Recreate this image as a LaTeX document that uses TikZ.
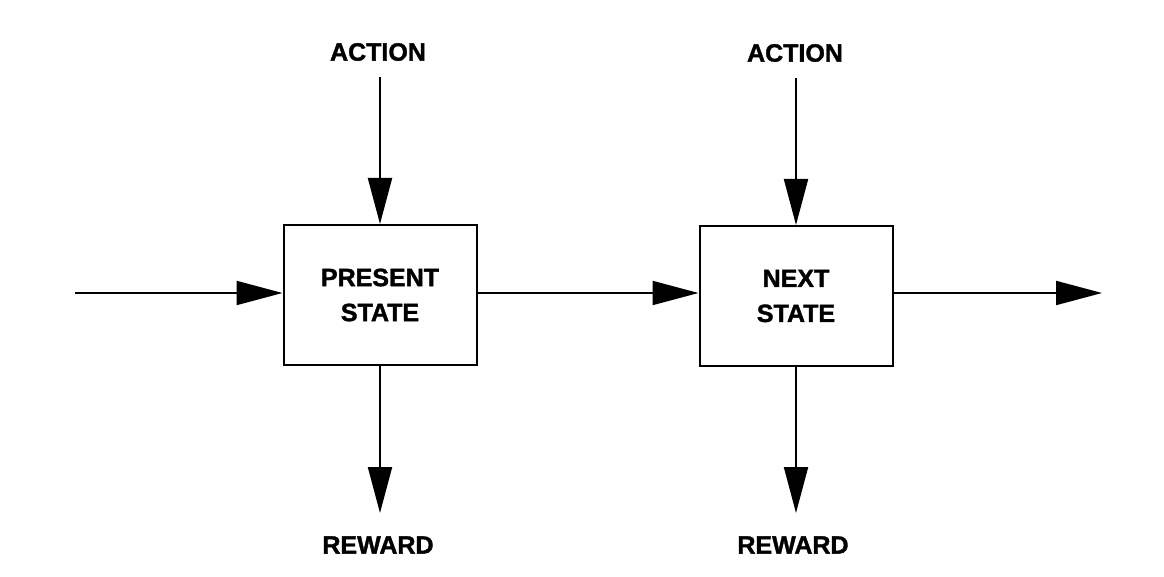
\documentclass[tikz,border=0pt]{standalone}
\usepackage{fontspec}
\setmainfont{Liberation Sans}[BoldFeatures={FakeBold=1.5}]
\usetikzlibrary{arrows.meta}
\begin{document}
\begin{tikzpicture}[x=1pt,y=-1pt,
  lbl/.style={font=\fontsize{25}{35}\selectfont\bfseries, inner sep=0pt, align=center},
  statebox/.style={draw, line width=2pt, minimum width=193pt, minimum height=140pt, inner sep=0pt, font=\fontsize{25}{35}\selectfont\bfseries, align=center},
  arr/.style={line width=2pt, -{Triangle[length=46pt,width=24pt]}}]
\useasboundingbox (0,0) rectangle (1164,577);
\node[statebox] (ps) at (380,295) {PRESENT\\STATE};
\node[statebox] (ns) at (796,296) {NEXT\\STATE};
\node[lbl] (a1) at (378,52) {ACTION};
\node[lbl] (a2) at (795,53) {ACTION};
\node[lbl] (r1) at (378,545) {REWARD};
\node[lbl] (r2) at (793,545) {REWARD};
\coordinate (in) at (75,293);
\coordinate (out) at (1102,293);
\coordinate (t1) at (380,513);
\coordinate (t2) at (796,513);
\draw[arr] (in) -- (in -| ps.west);
\draw[arr] (ps.east |- in) -- (ns.west |- in);
\draw[arr] (ns.east |- in) -- (out);
\draw[arr, shorten <=16pt] (a1.south -| ps.north) -- (ps.north);
\draw[arr, shorten <=16pt] (a2.south -| ns.north) -- (ns.north);
\draw[arr] (ps.south) -- (t1);
\draw[arr] (ns.south) -- (t2);
\end{tikzpicture}
\end{document}
